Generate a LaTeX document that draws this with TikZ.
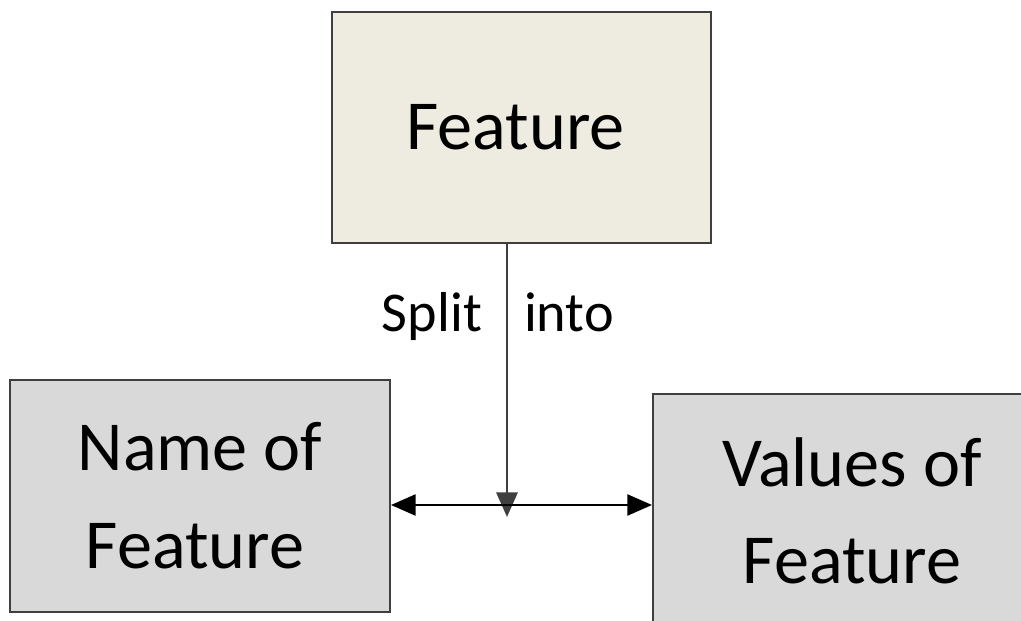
\documentclass[tikz,border=0pt]{standalone}
\usepackage{fontspec}
\setmainfont{Carlito}
\usetikzlibrary{arrows.meta}
\definecolor{tanfill}{HTML}{EEECE1}
\definecolor{grayfill}{HTML}{D9D9D9}
\definecolor{edgecol}{HTML}{3F3F3F}
\tikzset{
  boxstyle/.style={draw=edgecol, line width=1.2pt, rectangle, inner sep=0pt, align=center,
    font=\fontsize{40}{55.6}\selectfont},
  labelstyle/.style={font=\fontsize{32}{38}\selectfont, inner sep=0pt, anchor=base},
  tip/.style={-{Triangle[length=14pt,width=12pt]}}
}
\begin{document}
\begin{tikzpicture}[x=0.02cm,y=-0.02cm]
\useasboundingbox (0,0) rectangle (1021,621);
\clip (0,0) rectangle (1021,621);
\node[boxstyle, fill=tanfill, minimum width=7.58cm, minimum height=4.62cm] (top) at (521.5,127.5) {\hspace*{-0.24cm}Feature};
\node[boxstyle, fill=grayfill, minimum width=7.6cm, minimum height=4.64cm] (left) at (200,496) {Name of\\Feature\hspace*{0.2cm}};
\node[boxstyle, fill=grayfill, minimum width=7.96cm, minimum height=4.68cm] (right) at (852,511) {Values of\\Feature};
\coordinate (j) at (507,505);
\coordinate (jv) at (507,517);
\draw[edgecol, line width=1.6pt, tip] (j |- top.south) -- (jv);
\draw[black, line width=1.1pt, tip] (j) -- (left.east |- j);
\draw[black, line width=1.1pt, tip] (j) -- (right.west |- j);
\node[labelstyle] (split) at (432,332) {Split};
\node[labelstyle] (into) at (569,332) {into};
\end{tikzpicture}
\end{document}
